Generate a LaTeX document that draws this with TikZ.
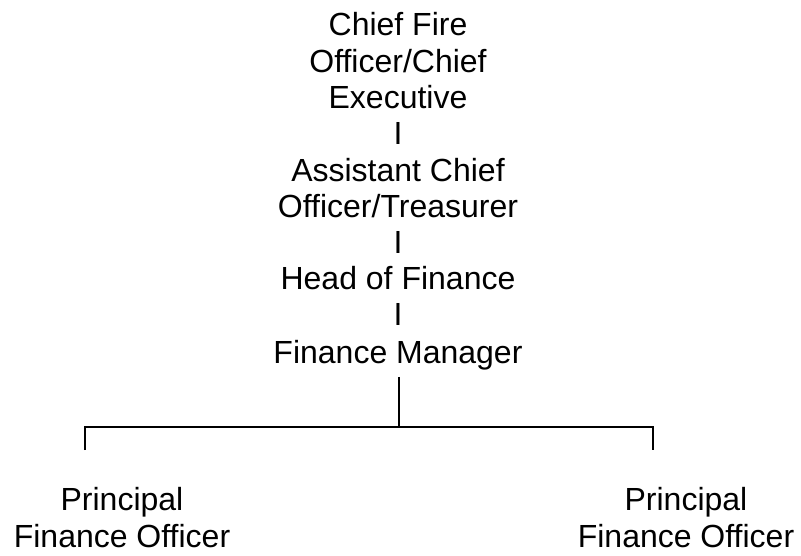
\documentclass[tikz,border=0pt]{standalone}
\usepackage{fontspec}
\setmainfont{Liberation Sans}
\usetikzlibrary{positioning}

\begin{document}
\begin{tikzpicture}[x=1pt, y=1pt]
		\tikzstyle{post} = [inner sep=0pt, anchor=base, align=center, font=\fontsize{32}{36.3}\selectfont]
		\tikzstyle{link} = [line width=1.2pt]
		\useasboundingbox (0,0) rectangle (801,-556);
		\node[post] (CFO) at (398,-108.6) {Chief Fire\\Officer/Chief\\Executive};
		\node[post] (I1) at (398,-145) {I};
		\node[post] (ACO) at (398,-217.5) {Assistant Chief\\Officer/Treasurer};
		\node[post] (I2) at (398,-254) {I};
		\node[post] (HoF) at (398,-290) {Head of Finance};
		\node[post] (I3) at (398,-326) {I};
		\node[post] (FM) at (398,-363) {Finance Manager};
		\node[post] (PFO1) at (122,-547) {Principal\\Finance Officer};
		\node[post] (PFO2) at (686,-547) {Principal\\Finance Officer};
		\coordinate (split) at (399,-427);
		\coordinate (left) at (85,-450);
		\coordinate (right) at (653,-450);
		\draw[link, shorten <=7pt] (FM.south -| split) -- (split);
		\draw[link] (left) |- (split) -| (right);
\end{tikzpicture}
\end{document}
